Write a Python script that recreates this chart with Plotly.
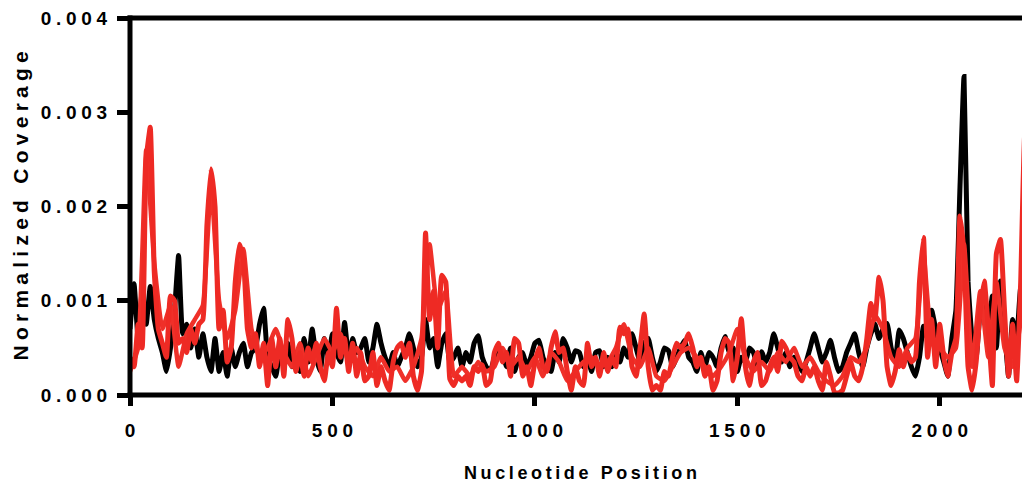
import plotly.graph_objects as go

# Nucleotide positions (nt)
POS_A = list(range(0, 2230, 10))   # 223 positions, step 10
POS_B = list(range(0, 2240, 20))   # 112 positions, step 20

# Normalized coverage values, in units of 1e-4
BLACK = [
    7.0, 11.8, 6.0, 11.0, 7.5, 11.5, 8.0, 6.0, 4.5, 2.5,      # 0-90
    5.0, 9.0, 14.8, 6.5, 7.5, 5.0, 7.0, 4.0, 6.5, 4.0,        # 100-190
    2.5, 6.0, 2.5, 4.5, 2.0, 5.0, 3.0, 4.5, 5.5, 3.0,         # 200-290
    4.5, 5.0, 7.5, 9.2, 4.0, 3.0, 2.0, 4.5, 3.0, 5.5,         # 300-390
    3.0, 4.5, 2.5, 6.0, 3.5, 7.0, 4.0, 2.5, 6.0, 4.0,         # 400-490
    6.5, 4.5, 3.5, 7.7, 4.0, 6.0, 4.5, 5.0, 6.0, 3.5,         # 500-590
    5.0, 7.5, 5.5, 4.0, 3.0, 4.5, 3.0, 4.0, 5.0, 6.5,         # 600-690
    5.0, 3.0, 4.0, 8.0, 5.0, 6.0, 3.0, 5.5, 6.5, 3.5,         # 700-790
    4.0, 5.0, 3.0, 4.5, 3.5, 5.5, 6.3, 4.0, 3.0, 2.5,         # 800-890
    4.0, 5.0, 4.5, 3.0, 5.0, 2.5, 4.0, 4.5, 3.0, 4.0,         # 900-990
    5.5, 5.8, 4.0, 3.0, 2.5, 4.5, 3.5, 6.0, 5.0, 3.5,         # 1000-1090
    4.7, 4.5, 3.0, 4.0, 2.5, 4.5, 4.7, 3.0, 4.0, 3.0,         # 1100-1190
    4.5, 3.5, 5.0, 4.0, 6.5, 5.0, 3.5, 5.5, 6.0, 4.0,         # 1200-1290
    2.5, 3.5, 5.0, 4.7, 3.0, 4.0, 5.0, 5.8, 4.0, 3.5,         # 1300-1390
    2.5, 4.5, 3.0, 4.5, 4.0, 3.0, 5.0, 6.2, 4.5, 5.0,         # 1400-1490
    2.5, 4.0, 3.5, 5.0, 4.5, 3.0, 4.6, 3.5, 4.5, 6.5,         # 1500-1590
    5.0, 3.5, 4.5, 3.0, 4.0, 3.5, 2.5, 3.5, 5.0, 6.5,         # 1600-1690
    5.0, 3.5, 4.5, 5.8, 4.0, 2.5, 3.0, 4.5, 5.5, 6.5,         # 1700-1790
    4.5, 3.0, 5.0, 6.5, 7.5, 6.0, 7.0, 7.6, 5.0, 3.5,         # 1800-1890
    6.9, 6.0, 4.5, 3.0, 2.0, 4.0, 7.3, 6.0, 9.0, 7.0,         # 1900-1990
    5.0, 3.5, 2.0, 6.0, 9.0, 22.0, 33.8, 12.0, 6.0, 4.0,      # 2000-2090
    9.0, 10.7, 7.0, 10.5, 5.0, 12.1, 7.0, 2.0, 8.0, 6.0,      # 2100-2190
    11.4, 9.0, 3.0,                                           # 2200-2220
]

RED_A = [
    4.0, 3.0, 7.5, 5.0, 25.0, 28.4, 13.0, 7.0, 5.5, 4.0,      # 0-90
    10.5, 10.0, 5.5, 6.0, 4.5, 7.0, 5.5, 7.5, 8.0, 18.0,      # 100-190
    24.0, 20.0, 7.0, 9.0, 3.5, 5.0, 12.0, 16.0, 14.5, 7.0,    # 200-290
    5.0, 6.5, 3.0, 5.5, 1.0, 6.0, 3.0, 6.0, 2.0, 8.0,         # 300-390
    6.0, 2.5, 4.5, 2.0, 5.0, 3.5, 5.5, 3.0, 1.5, 4.5,         # 400-490
    3.0, 9.2, 4.0, 6.0, 2.5, 5.5, 2.0, 4.5, 1.5, 2.0,         # 500-590
    4.5, 1.0, 3.0, 1.5, 0.5, 3.5, 5.0, 5.5, 4.0, 5.5,         # 600-690
    2.0, 0.5, 2.5, 17.2, 8.0, 11.0, 5.0, 12.7, 12.0, 1.7,     # 700-790
    1.0, 2.0, 1.5, 2.0, 1.0, 3.0, 2.5, 3.2, 1.0, 1.5,         # 800-890
    4.5, 5.5, 3.5, 4.5, 2.0, 6.0, 5.5, 2.0, 3.0, 1.0,         # 900-990
    3.5, 5.0, 3.0, 2.5, 5.0, 6.7, 4.5, 5.0, 2.5, 0.5,         # 1000-1090
    3.0, 1.5, 1.0, 5.5, 3.0, 4.0, 2.0, 4.5, 2.5, 4.0,         # 1100-1190
    3.0, 7.2, 6.5, 7.0, 3.0, 2.0, 5.0, 8.6, 3.0, 0.5,         # 1200-1290
    1.0, 0.5, 2.5, 2.0, 4.0, 5.5, 5.0, 5.5, 6.5, 5.0,         # 1300-1390
    3.0, 4.0, 2.0, 3.0, 0.5, 1.5, 4.5, 6.0, 5.5, 1.5,         # 1400-1490
    4.0, 8.1, 3.0, 1.0, 3.5, 4.5, 1.0, 1.5, 3.0, 4.0,         # 1500-1590
    2.5, 5.7, 5.0, 4.0, 3.5, 2.0, 1.5, 3.0, 2.0, 3.0,         # 1600-1690
    1.5, 0.5, 3.5, 2.0, 0.3, 0.2, 0.5, 2.0, 3.5, 2.0,         # 1700-1790
    1.5, 3.0, 6.0, 9.7, 8.0, 12.5, 10.0, 3.0, 1.0, 2.5,       # 1800-1890
    4.8, 3.0, 4.5, 3.5, 4.0, 12.0, 16.7, 4.0, 8.0, 3.0,       # 1900-1990
    7.5, 4.0, 2.0, 4.5, 6.0, 19.0, 15.0, 3.0, 0.5, 3.5,       # 2000-2090
    9.0, 12.1, 7.0, 1.0, 15.0, 16.5, 9.0, 2.0, 7.5, 1.5,      # 2100-2190
    12.0, 27.7, 21.0,                                         # 2200-2220
]

RED_B = [
    2.5, 5.0, 26.0, 14.0, 7.0, 9.5, 3.0, 6.5, 8.0, 9.5,       # 0-180
    22.5, 10.0, 6.0, 9.0, 15.5, 7.0, 4.0, 5.0, 7.0, 4.5,      # 200-380
    3.0, 5.5, 2.0, 4.0, 6.0, 4.5, 6.5, 3.5, 5.0, 3.0,         # 400-580
    2.0, 4.0, 2.5, 3.0, 1.5, 3.0, 6.0, 16.0, 9.0, 11.0,       # 600-780
    2.0, 3.0, 2.0, 3.5, 2.5, 3.0, 5.0, 3.0, 4.0, 2.5,         # 800-980
    4.0, 2.0, 4.5, 3.5, 1.5, 2.5, 3.5, 4.0, 3.0, 3.5,         # 1000-1180
    5.0, 7.5, 4.0, 3.0, 5.0, 2.0, 1.5, 3.0, 4.5, 5.0,         # 1200-1380
    4.0, 3.0, 2.0, 3.0, 4.5, 7.0, 4.0, 2.5, 3.5, 2.5,         # 1400-1580
    4.5, 3.5, 5.0, 3.0, 4.0, 2.5, 1.5, 1.0, 2.0, 4.0,         # 1600-1780
    3.5, 5.0, 8.5, 7.0, 4.0, 3.0, 5.0, 6.0, 15.0, 6.0,        # 1800-1980
    5.0, 4.0, 5.0, 16.0, 3.0, 11.0, 4.0, 12.0, 5.0, 3.0,      # 2000-2180
    8.0, 25.0,                                                # 2200-2220
]

UNIT = 1e-4
Y_TICKS = [0.0, 0.001, 0.002, 0.003, 0.004]
Y_LABELS = ["0.000", "0.001", "0.002", "0.003", "0.004"]
X_TICKS = [0, 500, 1000, 1500, 2000]
X_LABELS = ["0", "500", "1000", "1500", "2000"]
Y_TITLE = "Normalized Coverage"
X_TITLE = "Nucleotide Position"


def spaced(s, sep):
    return sep.join(list(s))


FONT = "Liberation Sans, Arial, Helvetica, sans-serif"

fig = go.Figure()
fig.add_trace(go.Scatter(x=POS_A, y=[v * UNIT for v in BLACK], mode="lines",
                         line=dict(color="#000000", width=5, shape="spline", smoothing=0.4),
                         showlegend=False))
fig.add_trace(go.Scatter(x=POS_B, y=[v * UNIT for v in RED_B], mode="lines",
                         line=dict(color="#EF3029", width=4.5, shape="spline", smoothing=0.4),
                         showlegend=False))
fig.add_trace(go.Scatter(x=POS_A, y=[v * UNIT for v in RED_A], mode="lines",
                         line=dict(color="#EE2A24", width=5, shape="spline", smoothing=0.4),
                         showlegend=False))

# page body has an 8px margin: the figure div starts at (8, 8) in the window
OFF = 8
L, T, B = 130 - OFF, 16 - OFF, 96
W, H = 1030 - OFF, 491 - OFF
ph = H - T - B
pw = W - L
lw = 5
dx = (lw / 2) / pw
dy = (lw / 2) / ph

fig.update_layout(
    width=W, height=H, autosize=False,
    margin=dict(l=L, r=0, t=T, b=B, pad=0),
    paper_bgcolor="white", plot_bgcolor="white",
    font=dict(family=FONT, color="black", size=19, weight="bold"),
    showlegend=False,
    xaxis=dict(range=[0, 2223], showgrid=False, zeroline=False, showline=False,
               tickmode="array", tickvals=X_TICKS,
               ticktext=[spaced(t, "\u2005") for t in X_LABELS],
               ticks="outside", ticklen=10, tickwidth=5, tickcolor="black",
               ticklabelstandoff=8, ticklabeloverflow="allow",
               tickfont=dict(family=FONT, size=19, color="black", weight="bold")),
    yaxis=dict(range=[0, 0.0040002], showgrid=False, zeroline=False, showline=False,
               tickmode="array", tickvals=Y_TICKS,
               ticktext=[spaced(t, "\u2005") for t in Y_LABELS],
               ticks="outside", ticklen=12, tickwidth=5, tickcolor="black",
               ticklabelstandoff=6, ticklabeloverflow="allow",
               tickfont=dict(family=FONT, size=19, color="black", weight="bold")),
    shapes=[
        dict(type="line", xref="paper", yref="paper", x0=0, x1=0, y0=-dy, y1=1 + dy,
             line=dict(color="black", width=lw), layer="above"),
        dict(type="line", xref="paper", yref="paper", x0=-dx, x1=1.01, y0=0, y1=0,
             line=dict(color="black", width=lw), layer="above"),
        dict(type="line", xref="paper", yref="paper", x0=-dx, x1=1.01, y0=1, y1=1,
             line=dict(color="black", width=lw), layer="above"),
    ],
    annotations=[
        dict(text=spaced(Y_TITLE, "\u2005"), xref="paper", yref="paper",
             x=(20 - OFF - L) / pw, y=0.5, xanchor="center", yanchor="middle",
             textangle=-90, showarrow=False,
             font=dict(family=FONT, size=21, color="black", weight="bold")),
        dict(text=spaced(X_TITLE, "\u2009"), xref="paper", yref="paper",
             x=(580 - OFF - L) / pw, y=-(473 - OFF - (H - B)) / ph,
             xanchor="center", yanchor="middle", showarrow=False,
             font=dict(family=FONT, size=18, color="black", weight="bold")),
    ],
)

fig.write_html("out.html")
